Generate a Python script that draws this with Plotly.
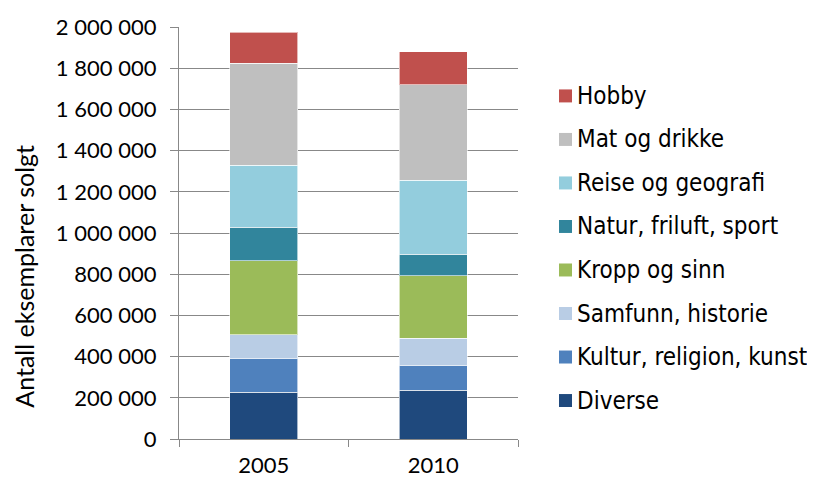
import plotly.graph_objects as go

years = ["2005", "2010"]
series_names = ["Diverse", "Kultur, religion, kunst", "Samfunn, historie", "Kropp og sinn",
                "Natur, friluft, sport", "Reise og geografi", "Mat og drikke", "Hobby"]
diverse = [228000, 236000]
kultur = [162000, 121000]
samfunn = [115000, 133000]
kropp = [361000, 303000]
natur = [161000, 105000]
reise = [303000, 359000]
mat = [495000, 463000]
hobby = [149000, 159000]
series_values = [diverse, kultur, samfunn, kropp, natur, reise, mat, hobby]
colors = ["#1F497D", "#4F81BD", "#B9CDE5", "#9BBB59", "#31859C", "#93CDDD", "#BFBFBF", "#C0504D"]
y_ticks = [0, 200000, 400000, 600000, 800000, 1000000, 1200000, 1400000, 1600000, 1800000, 2000000]
y_ticklabels = ["0", "200 000", "400 000", "600 000", "800 000", "1 000 000", "1 200 000",
                "1 400 000", "1 600 000", "1 800 000", "2 000 000"]
y_title = "Antall eksemplarer solgt"

# page body has an 8px margin: size the figure so it fits the 815x477 window
OFF = 8
W, H = 815 - OFF, 477 - OFF
# plot area in window pixels: x 179..518, y 27..439.5
L = 179 - OFF
R = W - (518 - OFF)
T = 27 - OFF
B = H - (439.5 - OFF)
pw, ph = W - L - R, H - T - B


def px(x):
    return (x - OFF - L) / pw


def py(y):
    return (H - B - (y - OFF)) / ph


fig = go.Figure()
for name, vals, col in zip(series_names, series_values, colors):
    fig.add_trace(go.Bar(x=years, y=vals, name=name, showlegend=False,
                         marker=dict(color=col, line=dict(color="rgba(255,255,255,0.6)", width=1))))

# manual legend (Hobby on top, Diverse at bottom)
legend_font = dict(family="DejaVu Sans Condensed, DejaVu Sans, sans-serif", size=24, color="#000000")
shapes = []
annotations = []
row0, step = 96.0, 43.57
for k, (name, col) in enumerate(zip(reversed(series_names), reversed(colors))):
    yc = row0 + k * step
    shapes.append(dict(type="rect", xref="paper", yref="paper",
                       x0=px(559), x1=px(572), y0=py(yc + 6.5), y1=py(yc - 6.5),
                       fillcolor=col, line=dict(width=0)))
    annotations.append(dict(text=name, xref="paper", yref="paper", x=px(575), y=py(yc),
                            xanchor="left", yanchor="middle", showarrow=False, font=legend_font))

annotations.append(dict(text=y_title, textangle=-90, xref="paper", yref="paper",
                        x=px(24), y=py(277), xanchor="center", yanchor="middle", showarrow=False,
                        font=dict(family="Lato, Open Sans, sans-serif", size=25, color="#000000")))

tick_font = dict(family="Lato, Open Sans, sans-serif", size=22, color="#000000")
fig.update_layout(
    barmode="stack",
    bargap=0.6,
    width=W, height=H,
    margin=dict(l=L, r=R, t=T, b=B, pad=0, autoexpand=False),
    paper_bgcolor="white", plot_bgcolor="white",
    showlegend=False,
    xaxis=dict(type="category", tickson="boundaries", ticks="outside", ticklen=7,
               tickcolor="#888888", tickwidth=1.3, showline=True, linecolor="#888888", linewidth=1.3,
               showgrid=False, tickfont=tick_font, ticklabelstandoff=6, automargin=False),
    yaxis=dict(range=[0, 2000000], tickvals=y_ticks, ticktext=y_ticklabels, ticks="outside",
               ticklen=8, tickcolor="#888888", tickwidth=1.3, showline=True, linecolor="#888888",
               linewidth=1.3, showgrid=True, gridcolor="#888888", gridwidth=1.3,
               tickfont=tick_font, zeroline=False, ticklabelstandoff=9, automargin=False),
    shapes=shapes,
    annotations=annotations,
)
fig.write_html("out.html")
